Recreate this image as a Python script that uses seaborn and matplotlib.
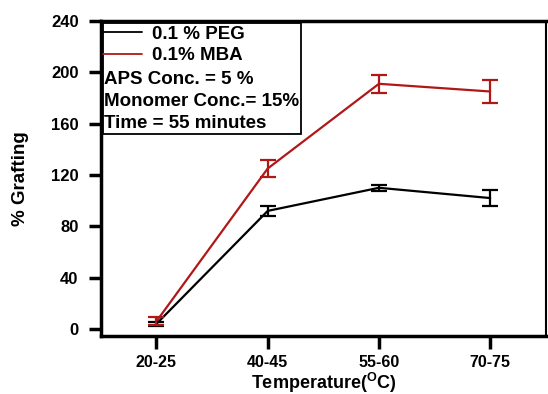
import matplotlib
matplotlib.use("Agg")
import matplotlib.pyplot as plt
import seaborn as sns
import pandas as pd
from matplotlib.patches import Rectangle

temps = ["20-25", "40-45", "55-60", "70-75"]
peg = [4, 92, 110, 102]
peg_err = [1.5, 4, 2.5, 6]
mba = [6, 125, 191, 185]
mba_err = [3, 6.5, 7, 9]
yticks = [0, 40, 80, 120, 160, 200, 240]
series_names = ["0.1 % PEG", "0.1% MBA"]
notes = ["APS Conc. = 5 %", "Monomer Conc.= 15%", "Time = 55 minutes"]

sns.set_style("white")
plt.rcParams["font.family"] = ["Liberation Sans", "DejaVu Sans"]
plt.rcParams["font.weight"] = "bold"
plt.rcParams["text.color"] = "black"
plt.rcParams["axes.labelcolor"] = "black"
plt.rcParams["xtick.color"] = "black"
plt.rcParams["ytick.color"] = "black"
plt.rcParams["mathtext.fontset"] = "custom"
plt.rcParams["mathtext.rm"] = "Liberation Sans:bold"
plt.rcParams["mathtext.bf"] = "Liberation Sans:bold"
plt.rcParams["mathtext.it"] = "Liberation Sans:bold"

df = pd.DataFrame({
    "Temperature": temps * 2,
    "Grafting": peg + mba,
    "Series": [series_names[0]] * 4 + [series_names[1]] * 4,
})
colors = {series_names[0]: "#000000", series_names[1]: "#b01818"}

fig = plt.figure(figsize=(5.48, 3.94), dpi=100)
ax = fig.add_axes([0.184, 0.147, 0.812, 0.800])

sns.lineplot(data=df, x="Temperature", y="Grafting", hue="Series",
             palette=colors, linewidth=1.6, ax=ax, legend=True, sort=False)
ax.errorbar(temps, peg, yerr=peg_err, fmt="none", ecolor=colors[series_names[0]],
            elinewidth=1.6, capsize=6, capthick=1.6)
ax.errorbar(temps, mba, yerr=mba_err, fmt="none", ecolor=colors[series_names[1]],
            elinewidth=1.6, capsize=6, capthick=1.6)

ax.set_xlim(-0.5, 3.5)
ax.set_ylim(-5.5, 240)
ax.set_yticks(yticks)
ax.set_xlabel(r"Temperature($^{\mathrm{O}}$C)", fontsize=13, fontweight="bold")
ax.set_ylabel("% Grafting", fontsize=13.5, fontweight="bold")
ax.xaxis.set_label_coords(0.5, -0.169)
ax.xaxis.label.set_va("baseline")
ax.yaxis.set_label_coords(-0.18, 0.5)
ax.yaxis.label.set_va("center")
ax.tick_params(axis="both", which="both", direction="out", length=9, width=2.5,
               labelsize=12, left=True, bottom=True, color="black")
ax.tick_params(axis="x", pad=4.5, labelsize=11.5)
ax.tick_params(axis="y", pad=7)
for lab in ax.get_xticklabels() + ax.get_yticklabels():
    lab.set_fontweight("bold")

for side, spine in ax.spines.items():
    spine.set_color("black")
    spine.set_linewidth(2.5 if side in ("left", "bottom", "top") else 1.5)

leg = ax.legend(loc="upper left", bbox_to_anchor=(0.0045, 0.985), frameon=False,
                fontsize=13.5, handlelength=2.08, handletextpad=0.53,
                labelspacing=0.23, borderaxespad=0.0, borderpad=0.0)
for t in leg.get_texts():
    t.set_fontweight("bold")
for h in leg.get_lines():
    h.set_linewidth(1.3)

ys = [0.813, 0.743, 0.676]
for txt, y in zip(notes, ys):
    ax.text(0.007, y, txt, transform=ax.transAxes, fontsize=13.5,
            fontweight="bold", va="center", ha="left")

ax.add_patch(Rectangle((0.0045, 0.641), 0.445, 0.353, transform=ax.transAxes,
                       fill=False, edgecolor="black", linewidth=1.3, zorder=5))

fig.savefig("out.png", dpi=100)
